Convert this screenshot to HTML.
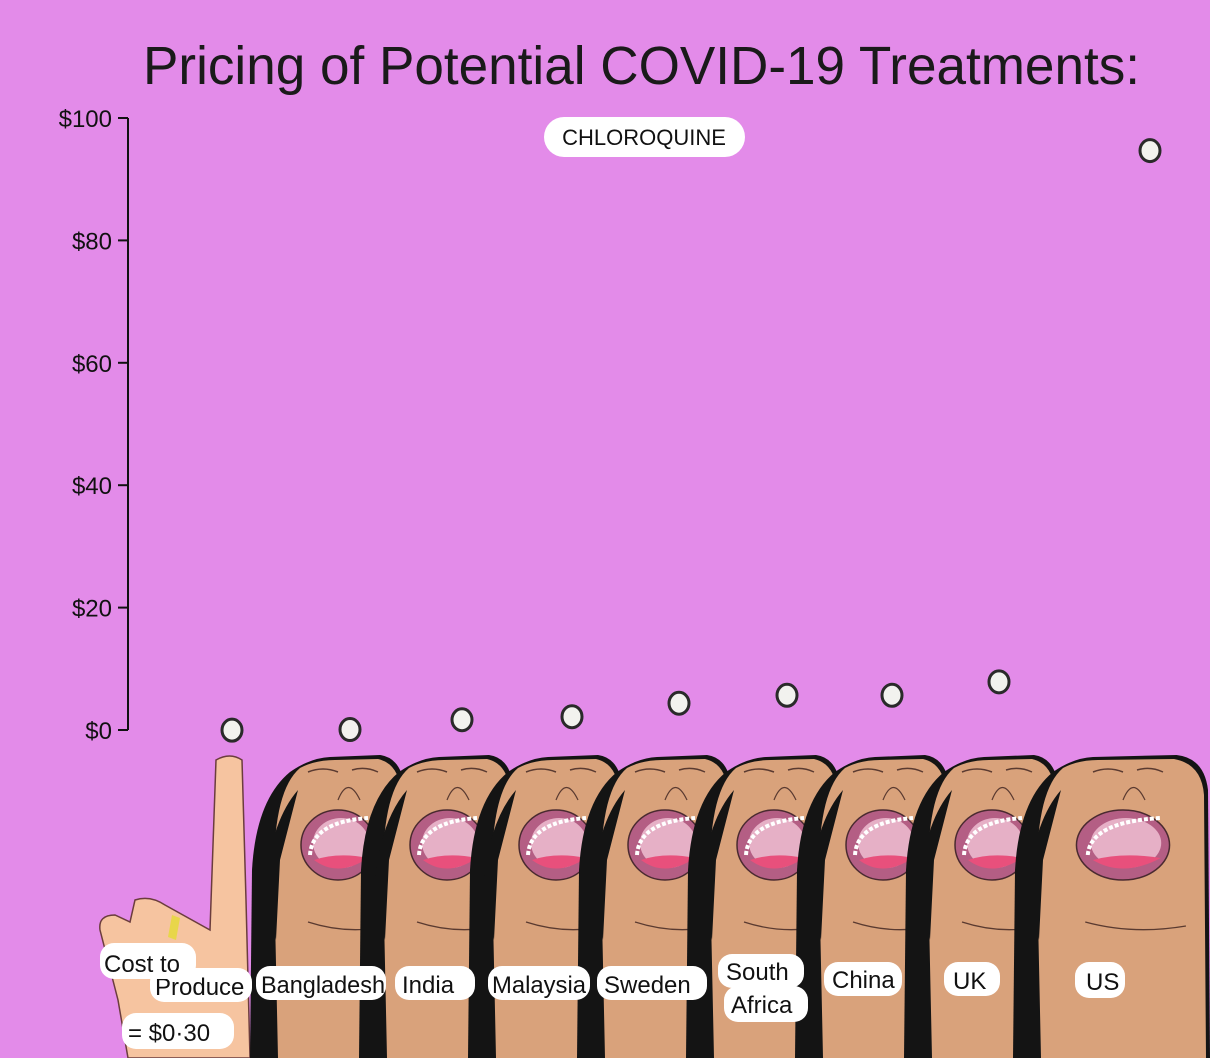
<!DOCTYPE html>
<html><head><meta charset="utf-8"><style>
body{margin:0;background:#e38be9;}
svg{display:block;font-family:"Liberation Sans",sans-serif;}
</style></head><body>
<svg id="c" width="1210" height="1058" viewBox="0 0 1210 1058">
<rect width="1210" height="1058" fill="#e38be9"/>
<text x="143" y="84" textLength="997" lengthAdjust="spacingAndGlyphs" font-size="54" fill="#1a1a1a">Pricing of Potential COVID-19 Treatments:</text>
<rect x="544" y="117" width="201" height="40" rx="20" fill="#fff"/>
<text x="644" y="145" text-anchor="middle" font-size="22" fill="#111">CHLOROQUINE</text>
<g id="faces"></g>
<g id="axis"></g>
<g id="marks"></g>
<g id="labels"></g>
</svg>
<script>
const categories=["Cost to Produce","Bangladesh","India","Malaysia","Sweden","South Africa","China","UK","US"];
const prices=[0.3,0.4,2.0,2.5,4.7,6.0,6.0,8.2,95];
const tickValues=[0,20,40,60,80,100];
const tickLabels=["$0","$20","$40","$60","$80","$100"];
const xCenters=[232,350,462,572,679,787,892,999,1150];
const NS="http://www.w3.org/2000/svg";
function y(v){return 730-6.12*v;}
function mk(tag,attrs,parent){const e=document.createElementNS(NS,tag);for(const k in attrs)e.setAttribute(k,attrs[k]);parent.appendChild(e);return e;}
const axis=document.getElementById('axis');
const ax=mk('line',{x1:128,y1:y(100),x2:128,y2:y(0),stroke:'#111','stroke-width':2},axis);


tickValues.forEach((v,i)=>{
 const t=mk('line',{x1:118,x2:128,y1:y(v),y2:y(v),stroke:'#111','stroke-width':2},axis);
 
 
 const l=mk('text',{x:112,y:y(v)+9,'text-anchor':'end','font-size':24,fill:'#111'},axis);
 l.textContent=tickLabels[i];
 
 
});
const faces=document.getElementById('faces');
const hand=mk('path',{d:'M216,760 Q230,752 242,760 L246,900 L250,1058 L128,1058 L118,1000 L100,930 Q98,915 115,915 L130,922 L135,900 Q150,895 165,905 L210,930 Z',fill:'#f6c4a0',stroke:'#6b3d3d','stroke-width':1.5},faces);


const ring=mk('path',{d:'M172,915 L180,918 L176,940 L168,937 Z',fill:'#e8d64a'},faces);


for(let i=0;i<8;i++){
 const x0=250+109*i, w=(i===7?195:155), s=w/155;
 const g=mk('g',{},faces);
 
 
 mk('path',{d:`M${x0},1058 L${x0+2},870 Q${x0+6},800 ${x0+40},772 Q${x0+60},758 ${x0+80},757 L${x0+130*s},755 Q${x0+152*s},758 ${x0+w},790 L${x0+w+2},1058 Z`,fill:'#141414'},g);
 mk('path',{d:`M${x0+28},1058 L${x0+24},870 Q${x0+24},790 ${x0+50},768 Q${x0+65},760 ${x0+85},760 L${x0+128*s},759 Q${x0+150*s},764 ${x0+w-4},795 L${x0+w-2},1058 Z`,fill:'#d9a27b'},g);
 mk('path',{d:`M${x0+26},940 L${x0+16},880 Q${x0+22},820 ${x0+48},790 L${x0+30},860 Z`,fill:'#141414'},g);
 const cx=x0+(i===7?110:88);
 mk('path',{d:`M${cx-30},772 Q${cx-15},766 ${cx},772 M${cx+14},770 Q${cx+27},766 ${cx+40},772`,stroke:'#5a3a30','stroke-width':1.5,fill:'none'},g);
 mk('path',{d:`M${cx},800 Q${cx+10},775 ${cx+22},800`,fill:'none',stroke:'#5a3a30','stroke-width':1.2},g);
 mk('ellipse',{cx:cx,cy:845,rx:37*s,ry:35,fill:'#b45e84',stroke:'#4a2a30','stroke-width':1.5},g);
 mk('ellipse',{cx:cx+3,cy:843,rx:28*s,ry:25,fill:'#e6b0c6'},g);
 mk('path',{d:`M${cx-24*s},860 Q${cx},852 ${cx+30*s},858 Q${cx},878 ${cx-24*s},860 Z`,fill:'#e8507c'},g);
 mk('path',{d:`M${cx-28*s},855 Q${cx-26*s},822 ${cx+30*s},818`,stroke:'#fff','stroke-width':4,fill:'none','stroke-dasharray':'4 2'},g);
 mk('path',{d:`M${cx-30*s},922 Q${cx+10},935 ${cx+50*s},926`,stroke:'#5a3a30','stroke-width':1.3,fill:'none'},g);
}
const marks=document.getElementById('marks');
prices.forEach((v,i)=>{
 const e=mk('ellipse',{cx:xCenters[i],cy:y(v)+2,rx:10,ry:11,fill:'#f2f2ee',stroke:'#2a2a2a','stroke-width':3},marks);
 
 
});
const labels=document.getElementById('labels');
const labs=[["Produce",150,968,102,34,155,995],["Cost to",100,943,96,36,104,972],["= $0·30",122,1013,112,36,128,1041],
["Bangladesh",256,966,130,34,261,993,124],["India",395,966,80,34,402,993],["Malaysia",488,966,102,34,492,993,94],["Sweden",597,966,110,34,604,993],
["South",718,954,86,34,726,980],["Africa",724,986,84,36,731,1013],["China",824,962,78,34,832,988],["UK",944,962,56,34,953,989],["US",1075,962,50,36,1086,990]];
labs.forEach(l=>{
 const r=mk('rect',{x:l[1],y:l[2],width:l[3],height:l[4],rx:14,fill:'#fff'},labels);
 
 
 const a={x:l[5],y:l[6],'font-size':24,fill:'#111'};
 if(l[7]){a.textLength=l[7];a.lengthAdjust='spacingAndGlyphs';}
 const t=mk('text',a,labels);
 t.textContent=l[0];
 
 
});
</script>
</body></html>
